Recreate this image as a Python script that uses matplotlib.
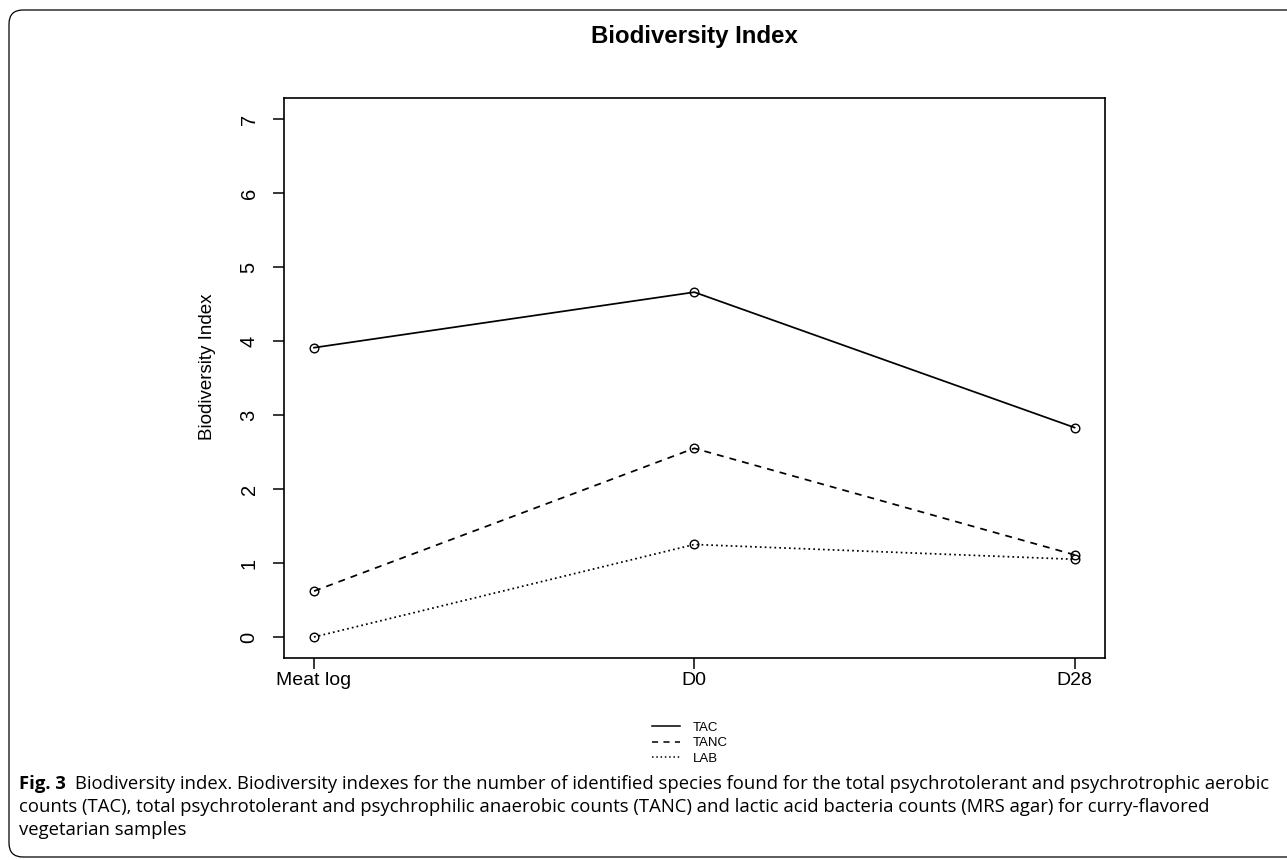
import matplotlib
matplotlib.use("Agg")
import matplotlib.pyplot as plt
from matplotlib.lines import Line2D
from matplotlib.patches import FancyBboxPatch

# ---- data ----
categories = ["Meat log", "D0", "D28"]
tac = [3.91, 4.66, 2.83]
tanc = [0.62, 2.55, 1.11]
lab = [0.00, 1.25, 1.05]
series_names = ["TAC", "TANC", "LAB"]
yticks = [0, 1, 2, 3, 4, 5, 6, 7]
title = "Biodiversity Index"
ylabel = "Biodiversity Index"
caption_bold = "Fig. 3"
caption_lines = [
    "Biodiversity index. Biodiversity indexes for the number of identified species found for the total psychrotolerant and psychrotrophic aerobic",
    "counts (TAC), total psychrotolerant and psychrophilic anaerobic counts (TANC) and lactic acid bacteria counts (MRS agar) for curry-flavored",
    "vegetarian samples",
]

W, H = 1287, 860
fig = plt.figure(figsize=(W / 100, H / 100), dpi=100)
fig.patch.set_facecolor("white")

plt.rcParams["font.family"] = ["Liberation Sans", "DejaVu Sans"]

L, R, T, B = 283.6, 1105, 98.3, 657.7
ax = fig.add_axes([L / W, 1 - B / H, (R - L) / W, (B - T) / H])

x = list(range(len(categories)))
styles = ["-", (0, (4, 3.5)), (0, (1, 1.8))]
for vals, ls in zip([tac, tanc, lab], styles):
    ax.plot(x, vals, linestyle=ls, color="black", lw=1.25,
            marker="o", markersize=6.2, markerfacecolor="none",
            markeredgecolor="black", markeredgewidth=1.0)

ax.set_xlim(-0.08, 2.08)
ax.set_ylim(-0.28, 7.28)
ax.set_xticks(x)
ax.set_xticklabels(categories)
ax.set_yticks(yticks)
ax.set_yticklabels([str(v) for v in yticks])
ax.tick_params(axis="both", direction="out", length=8, width=1.1, colors="black",
               labelsize=14)
ax.tick_params(axis="x", pad=2)
ax.tick_params(axis="y", labelrotation=90, labelsize=14.5, pad=10)
for lbl in ax.get_yticklabels():
    lbl.set_verticalalignment("center")
for s in ax.spines.values():
    s.set_linewidth(1.2)
    s.set_color("black")

ax.set_ylabel(ylabel, fontsize=13.5)
ax.yaxis.set_label_coords((216 - L) / (R - L), (B - 367) / (B - T))

fig.text((L + R) / 2 / W, 1 - 37 / H, title, ha="center", va="center",
         fontsize=17.3, fontweight="bold")

handles = [Line2D([0], [0], color="black", lw=1.1, linestyle=ls) for ls in styles]
fig.legend(handles, series_names, loc="center", bbox_to_anchor=(690 / W, 1 - 743 / H),
           frameon=False, fontsize=9.5, handlelength=2.1, handletextpad=1.0,
           labelspacing=0.25)

# caption
cap_font = ["Open Sans", "DejaVu Sans"]
cap_size = 13.3
cx = 19
baselines = [789, 812, 835]
fig.canvas.draw()
renderer = fig.canvas.get_renderer()
tb = fig.text(cx / W, 1 - baselines[0] / H, caption_bold, family=cap_font,
              fontsize=cap_size, fontweight="bold", ha="left", va="baseline")
bb = tb.get_window_extent(renderer=renderer)
fig.text((bb.x1 + 9) / W, 1 - baselines[0] / H, caption_lines[0], family=cap_font,
         fontsize=cap_size, ha="left", va="baseline")
for line, yb in zip(caption_lines[1:], baselines[1:]):
    fig.text(cx / W, 1 - yb / H, line, family=cap_font, fontsize=cap_size,
             ha="left", va="baseline")

box = FancyBboxPatch((9, H - 857), 1320, 847,
                     boxstyle="round,pad=0,rounding_size=14",
                     transform=None, facecolor="none", edgecolor="black", lw=0.9)
fig.add_artist(box)

fig.savefig("out.png", dpi=100)
